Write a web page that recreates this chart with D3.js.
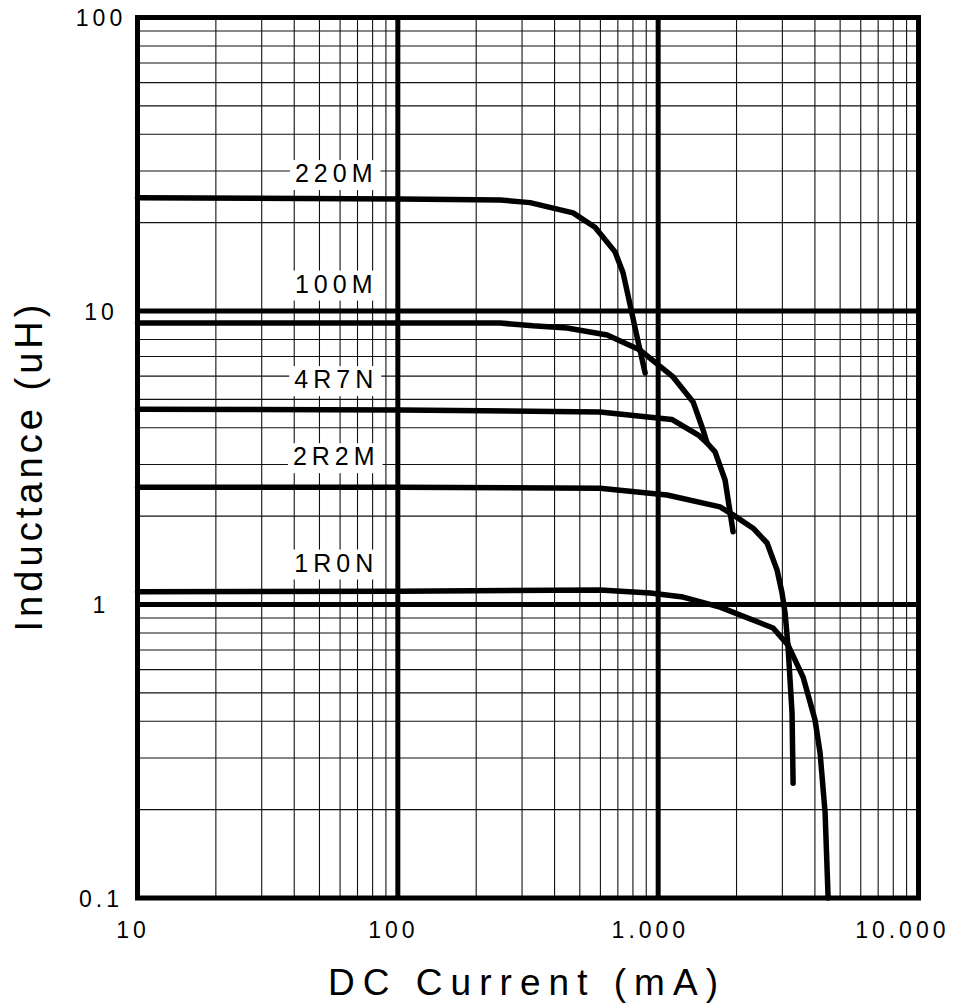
<!DOCTYPE html>
<html lang="en">
<head>
    <meta charset="UTF-8">
    <script src="https://d3js.org/d3.v7.min.js"></script>
    <style>
        body { margin: 0; background: #fff; }
        text { font-family: Arial, "Liberation Sans", sans-serif; }
    </style>
</head>
<body>
    <svg id="chart" width="957" height="1006"></svg>
    <script>
        // Values (current in mA, inductance in uH)
        const seriesNames = ["220M", "100M", "4R7N", "2R2M", "1R0N"];

        const current220M = [10, 102, 247, 322, 471, 572, 683, 733, 780, 830, 891];
        const induct220M  = [24.3, 24.1, 23.9, 23.4, 21.6, 19.3, 15.9, 13.5, 10.5, 8.15, 6.15];

        const current100M = [10, 100, 247, 330, 447, 637, 852, 1141, 1362, 1488, 1541, 1654, 1807, 1940];
        const induct100M  = [9.1, 9.1, 9.1, 8.9, 8.75, 8.28, 7.36, 5.96, 4.9, 3.93, 3.55, 3.31, 2.655, 1.77];

        const current4R7N = [10, 102, 598, 1128, 1427, 1541];
        const induct4R7N  = [4.63, 4.6, 4.53, 4.27, 3.78, 3.55];

        const current2R2M = [10, 102, 598, 1082, 1729, 1940, 2315, 2620, 2863, 2992, 3073, 3155, 3268, 3298];
        const induct2R2M  = [2.51, 2.51, 2.49, 2.36, 2.15, 2.02, 1.82, 1.62, 1.31, 1.094, 0.935, 0.716, 0.427, 0.246];

        const current1R0N = [10, 102, 598, 931, 1246, 1729, 2763, 3155, 3603, 4005, 4188, 4378, 4496];
        const induct1R0N  = [1.105, 1.11, 1.12, 1.094, 1.06, 0.98, 0.832, 0.727, 0.566, 0.404, 0.312, 0.195, 0.1];

        // where each part-number label sits (data units)
        const labelCurrent = 58;
        const labelInduct = [29.5, 12.4, 5.86, 3.2, 1.39];

        const xTicks = [10, 100, 1000, 10000];
        const xTickLabels = ["10", "100", "1.000", "10.000"];
        const yTicks = [0.1, 1, 10, 100];
        const yTickLabels = ["0.1", "1", "10", "100"];

        const series = [
            [current220M, induct220M],
            [current100M, induct100M],
            [current4R7N, induct4R7N],
            [current2R2M, induct2R2M],
            [current1R0N, induct1R0N]
        ].map(([cs, ls], i) => ({
            name: seriesNames[i],
            values: cs.map((c, j) => ({ c, l: ls[j] }))
        }));

        const margin = { top: 17.5, right: 38.5, bottom: 108, left: 137.5 };
        const width = 957, height = 1006;

        const svg = d3.select("#chart");

        const x = d3.scaleLog()
            .domain([10, 10000])
            .range([margin.left, width - margin.right]);

        const y = d3.scaleLog()
            .domain([0.1, 100])
            .range([height - margin.bottom, margin.top]);

        // minor grid values 2..9 per decade
        const xMinor = [], yMinor = [];
        [10, 100, 1000].forEach(k => d3.range(2, 10).forEach(m => xMinor.push(m * k)));
        [0.1, 1, 10].forEach(k => d3.range(2, 10).forEach(m => yMinor.push(+(m * k).toFixed(2))));

        const grid = svg.append("g");

        grid.selectAll(".vminor")
            .data(xMinor)
            .enter().append("line")
            .attr("x1", d => x(d)).attr("x2", d => x(d))
            .attr("y1", y(0.1)).attr("y2", y(100))
            .attr("stroke", "#111")
            .attr("stroke-width", 1.1);

        grid.selectAll(".hminor")
            .data(yMinor)
            .enter().append("line")
            .attr("y1", d => y(d)).attr("y2", d => y(d))
            .attr("x1", x(10)).attr("x2", x(10000))
            .attr("stroke", "#111")
            .attr("stroke-width", 1.1);

        // heavy decade lines
        grid.selectAll(".vmajor")
            .data([100, 1000])
            .enter().append("line")
            .attr("x1", d => x(d)).attr("x2", d => x(d))
            .attr("y1", y(0.1)).attr("y2", y(100))
            .attr("stroke", "#000")
            .attr("stroke-width", 5);

        grid.selectAll(".hmajor")
            .data([1, 10])
            .enter().append("line")
            .attr("y1", d => y(d)).attr("y2", d => y(d))
            .attr("x1", x(10)).attr("x2", x(10000))
            .attr("stroke", "#000")
            .attr("stroke-width", 5);

        // curves
        const line = d3.line()
            .x(d => x(d.c))
            .y(d => y(d.l))
            .curve(d3.curveLinear);

        svg.selectAll(".curve")
            .data(series)
            .enter().append("path")
            .attr("class", "curve")
            .attr("d", d => line(d.values))
            .attr("fill", "none")
            .attr("stroke", "#000")
            .attr("stroke-width", 5.5)
            .attr("stroke-linejoin", "round")
            .attr("stroke-linecap", "round");

        // frame
        svg.append("rect")
            .attr("x", x(10))
            .attr("y", y(100))
            .attr("width", x(10000) - x(10))
            .attr("height", y(0.1) - y(100))
            .attr("fill", "none")
            .attr("stroke", "#000")
            .attr("stroke-width", 5);

        // part-number labels on white boxes
        const labels = svg.selectAll(".lbl")
            .data(seriesNames)
            .enter().append("g");

        labels.append("text")
            .attr("x", x(labelCurrent))
            .attr("y", (d, i) => y(labelInduct[i]))
            .attr("dy", "0.36em")
            .attr("text-anchor", "middle")
            .style("font-size", "25px")
            .style("letter-spacing", "5px")
            .text(d => d);

        labels.each(function() {
            const g = d3.select(this);
            const b = g.select("text").node().getBBox();
            g.insert("rect", "text")
                .attr("x", b.x - 5)
                .attr("y", b.y + 1)
                .attr("width", b.width + 8)
                .attr("height", b.height + 2)
                .attr("fill", "#fff");
        });

        // tick labels
        const xAxis = svg.append("g")
            .attr("transform", `translate(0,${y(0.1)})`)
            .call(d3.axisBottom(x).tickValues(xTicks).tickFormat((d, i) => xTickLabels[i]).tickSize(0));
        xAxis.select(".domain").remove();
        xAxis.selectAll("text")
            .attr("y", 40)
            .attr("dy", 0)
            .attr("dx", -5)
            .attr("fill", "#000")
            .style("font-size", "23px")
            .style("letter-spacing", "4px")
            .style("font-family", "Arial, 'Liberation Sans', sans-serif");

        // keep the last label inside the page, like the reference
        xAxis.selectAll("text").each(function() {
            const node = this;
            const b = node.getBBox();
            const tx = x(xTicks[xTicks.length - 1]);
            const right = tx + b.x + b.width - 5;
            if (right > 944) d3.select(node).attr("dx", -5 - (right - 944));
        });

        const yAxis = svg.append("g")
            .attr("transform", "translate(101,0)")
            .call(d3.axisLeft(y).tickValues(yTicks).tickFormat((d, i) => yTickLabels[i]).tickSize(0));
        yAxis.select(".domain").remove();
        yAxis.selectAll("text")
            .attr("x", 0)
            .attr("dy", "0.36em")
            .attr("text-anchor", "middle")
            .attr("fill", "#000")
            .style("font-size", "23px")
            .style("letter-spacing", "4px")
            .style("font-family", "Arial, 'Liberation Sans', sans-serif");

        // axis titles
        svg.append("text")
            .attr("x", 523)
            .attr("y", 995)
            .attr("text-anchor", "middle")
            .attr("textLength", 390)
            .attr("lengthAdjust", "spacing")
            .style("font-size", "37px")
            .text("DC  Current (mA)");

        svg.append("text")
            .attr("transform", "translate(42,468) rotate(-90)")
            .attr("text-anchor", "middle")
            .attr("textLength", 327)
            .attr("lengthAdjust", "spacing")
            .style("font-size", "38px")
            .text("Inductance (uH)");
    </script>
</body>
</html>
